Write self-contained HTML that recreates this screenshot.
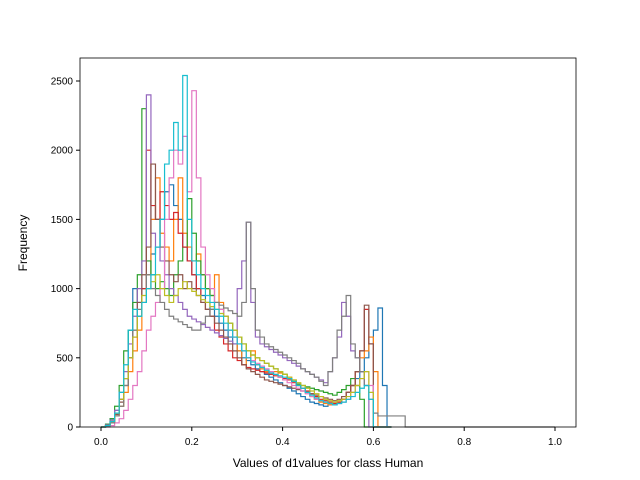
<!DOCTYPE html>
<html><head><meta charset="utf-8"><style>
body{margin:0;background:#fff}
svg{display:block;font-family:"Liberation Sans","DejaVu Sans",sans-serif}
</style></head><body>
<svg id="chart" width="640" height="480">
<rect x="0" y="0" width="640" height="480" fill="#fff"/>
<g id="series"></g>
<rect x="80" y="58" width="496" height="369" fill="none" stroke="#000" stroke-width="0.8"/>
<g id="ticks"></g>
<text x="328" y="467" font-size="12" text-anchor="middle">Values of d1values for class Human</text>
<text transform="translate(27,243) rotate(-90)" font-size="12" text-anchor="middle">Frequency</text>
</svg>
<script>
const binWidth = 0.01;
const colors = ["#1f77b4","#ff7f0e","#2ca02c","#d62728","#9467bd","#8c564b","#e377c2","#7f7f7f","#bcbd22","#17becf"];
const sBlue = [0,20,60,120,200,350,700,1000,900,1000,1100,1250,1300,1500,1700,1750,1600,1500,1300,1200,1100,1000,950,900,850,800,750,700,650,600,550,500,480,450,420,400,380,360,340,320,300,280,260,240,220,200,180,170,160,150,160,170,180,200,250,300,350,400,500,600,700,860,300,0];
const sOrange = [0,10,30,80,150,250,400,550,700,900,1100,1500,1800,1400,1300,1200,1500,1800,1400,1300,1200,1250,1100,1000,950,1100,900,800,700,650,550,450,500,550,450,420,400,380,400,390,380,360,340,300,280,250,220,200,180,170,160,170,180,200,250,300,400,500,550,650,400,0,0,0];
const sGreen = [0,20,60,150,300,550,700,900,1100,2300,1200,1100,1000,1050,1000,950,1100,1200,1300,1650,1400,1200,1100,1000,950,900,850,800,750,700,650,600,550,520,500,480,460,440,420,400,380,350,330,310,300,290,280,270,260,250,240,230,250,270,300,350,300,200,0,0,0,0,0,0];
const sRed = [0,10,40,100,200,350,500,650,800,1000,2000,1600,1500,1700,1600,1500,1550,1400,1300,1200,1100,1000,900,850,800,700,650,600,550,500,480,450,430,420,410,400,390,380,370,360,350,340,320,300,280,260,240,220,200,190,180,170,180,200,250,300,400,550,850,600,0,0,0,0];
const sPurple = [0,15,50,120,250,400,600,800,1000,1200,2400,1400,1300,1200,1100,1000,950,900,850,800,780,760,740,720,700,680,660,640,620,600,1000,1200,1480,900,650,600,580,560,540,520,500,480,460,440,420,400,380,360,340,320,400,500,650,900,800,550,500,400,300,0,0,0,0,0];
const sBrown = [0,10,40,90,180,300,500,700,900,1100,1300,1900,1500,1300,1200,1100,1050,1100,1000,1050,1000,950,900,850,800,750,700,650,600,550,500,450,420,400,380,360,340,330,320,310,300,290,280,270,260,250,240,230,220,210,200,190,200,220,250,300,400,550,880,600,0,0,0,0];
const sPink = [0,0,10,30,60,120,200,300,400,550,700,800,900,1000,1500,1800,2000,1900,2100,1700,2430,1800,1300,1100,1000,900,850,800,700,650,600,550,500,480,460,440,420,400,380,360,340,320,300,280,260,240,220,200,190,180,170,160,170,180,200,250,300,350,400,300,0,0,0,0];
const sGray = [0,10,30,80,150,300,500,700,850,900,1100,1000,950,900,850,800,780,760,740,720,700,700,750,800,850,900,880,860,840,820,800,900,1480,1000,700,650,600,580,560,540,520,500,480,460,420,400,380,360,330,300,400,500,700,800,950,600,500,400,300,200,100,80,80,80,80,80,80,0];
const sOlive = [0,10,40,100,200,350,500,650,800,950,1000,1050,1100,1000,950,900,950,1000,1050,1000,980,950,920,900,870,850,820,800,750,700,650,600,550,520,500,480,460,440,420,400,380,360,340,320,300,280,260,240,220,200,190,180,190,200,220,250,300,350,400,250,0,0,0,0];
const sCyan = [0,10,40,100,250,450,700,850,800,900,1000,1100,1300,1500,1900,2000,2200,2000,2540,1500,1200,1100,1000,950,900,850,800,750,700,650,600,550,500,470,450,430,410,390,380,370,360,350,330,300,280,250,230,210,190,180,170,160,170,180,200,220,250,280,300,200,0,0,0,0];
const allSeries = [sBlue,sOrange,sGreen,sRed,sPurple,sBrown,sPink,sGray,sOlive,sCyan];
const xTicks = [0.0,0.2,0.4,0.6,0.8,1.0];
const xTickLabels = ["0.0","0.2","0.4","0.6","0.8","1.0"];
const yTicks = [0,500,1000,1500,2000,2500];
const yTickLabels = ["0","500","1000","1500","2000","2500"];

const X = v => 101 + v * 454;
const Y = v => 427 - v * 0.1384;
const NS = "http://www.w3.org/2000/svg";
const g = document.getElementById("series");
allSeries.forEach((arr, si) => {
  let d = "M" + X(0) + "," + Y(0);
  arr.forEach((v, i) => {
    d += " L" + X(i * binWidth) + "," + Y(v) + " L" + X((i + 1) * binWidth) + "," + Y(v);
  });
  d += " L" + X(arr.length * binWidth) + "," + Y(0);
  if (si === 7) d += " L" + X(1.0) + "," + Y(0);
  const p = document.createElementNS(NS, "path");
  p.setAttribute("d", d);
  p.setAttribute("fill", "none");
  p.setAttribute("stroke", colors[si]);
  p.setAttribute("stroke-width", "1.2");
  
  
  g.appendChild(p);
});
const t = document.getElementById("ticks");
xTicks.forEach((v, i) => {
  const l = document.createElementNS(NS, "line");
  l.setAttribute("x1", X(v)); l.setAttribute("x2", X(v));
  l.setAttribute("y1", 427); l.setAttribute("y2", 431);
  l.setAttribute("stroke", "#000");
  
  
  t.appendChild(l);
  const tx = document.createElementNS(NS, "text");
  tx.setAttribute("x", X(v)); tx.setAttribute("y", 445);
  tx.setAttribute("font-size", "10"); tx.setAttribute("text-anchor", "middle");
  tx.textContent = xTickLabels[i];
  
  
  t.appendChild(tx);
});
yTicks.forEach((v, i) => {
  const l = document.createElementNS(NS, "line");
  l.setAttribute("x1", 76); l.setAttribute("x2", 80);
  l.setAttribute("y1", Y(v)); l.setAttribute("y2", Y(v));
  l.setAttribute("stroke", "#000");
  
  
  t.appendChild(l);
  const tx = document.createElementNS(NS, "text");
  tx.setAttribute("x", 73); tx.setAttribute("y", Y(v) + 3.5);
  tx.setAttribute("font-size", "10"); tx.setAttribute("text-anchor", "end");
  tx.textContent = yTickLabels[i];
  
  
  t.appendChild(tx);
});
</script>
</body></html>
